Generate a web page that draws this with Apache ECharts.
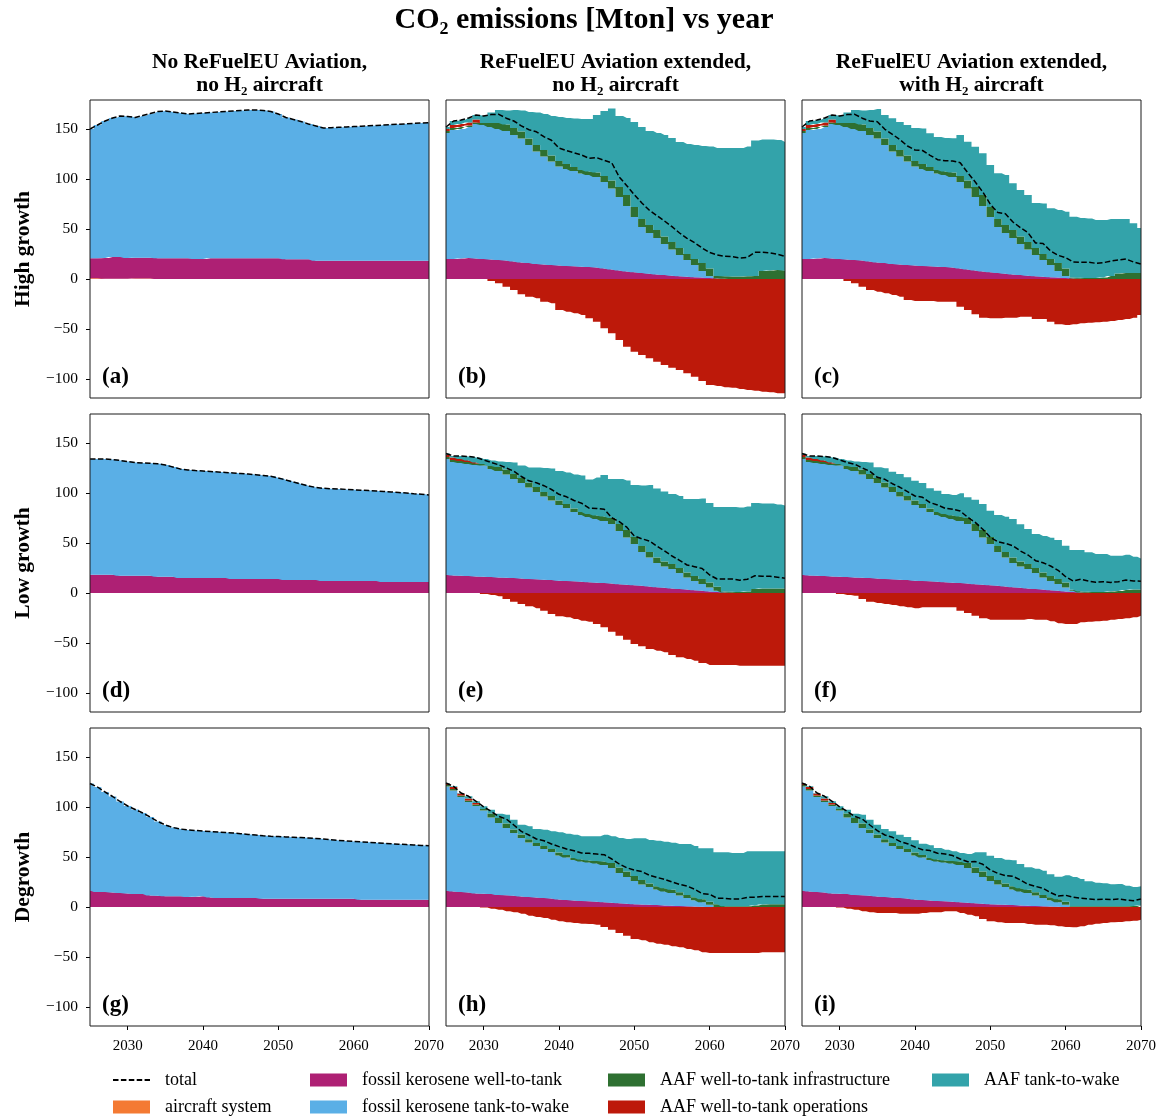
<!DOCTYPE html>
<html><head><meta charset="utf-8">
<script src="https://cdn.jsdelivr.net/npm/echarts@6/dist/echarts.min.js"></script>
<style>html,body{margin:0;padding:0;background:#fff}#c{width:1168px;height:1117px}</style>
</head><body><div id="c"></div><script>
// ---------- data (Mton CO2 per year) ----------
const years = [2025,2026,2027,2028,2029,2030,2031,2032,2033,2034,
  2035,2036,2037,2038,2039,2040,2041,2042,2043,2044,
  2045,2046,2047,2048,2049,2050,2051,2052,2053,2054,
  2055,2056,2057,2058,2059,2060,2061,2062,2063,2064,
  2065,2066,2067,2068,2069,2070];
const yTickValues = [-100,-50,0,50,100,150];

// (a) High growth, no ReFuelEU
const aircraftA = [0.8,0.8,0.3,0.3,0.3,0.3,0.5,0.5,0.5,0, 0,0,0,0,0,0,0,0,0,0, 0,0,0,0,0,0,0,0,0,0, 0,0,0,0,0,0,0,0,0,0, 0,0,0,0,0,0];
const fossilWttA = [20,20,20.7,21.7,21.7,20.7,20.7,20.7,20.7,20.7, 20.7,20.7,20.7,20.7,20,20,20.7,20.7,20.7,20.7, 20.7,20.7,20.7,20.7,20.7,20.7,19.7,19.7,19.7,19.7, 18.3,18.3,18.3,18.3,18.3,18.3,18.3,18.3,18.3,18.3, 18.3,18.3,18.3,18.3,18.3,18.3];
const fossilTtwA = [129.2,133.2,137,139,141,141.5,140.3,142.3,144.3,146.8, 147.3,146.3,145.3,144.3,145.5,146,145.8,146.3,146.8,147.3, 147.8,148.3,148.3,147.8,146.8,144.3,141.8,139.8,137.8,135.3, 134.7,132.7,133,133.4,133.7,134.1,134.5,134.9,135.3,135.7, 136.1,136.5,136.9,137.3,137.7,138.1];
const totalA = [150,154,158,161,163,162.5,161.5,163.5,165.5,167.5, 168,167,166,165,165.5,166,166.5,167,167.5,168, 168.5,169,169,168.5,167.5,165,161.5,159.5,157.5,155, 153,151,151.3,151.7,152,152.4,152.8,153.2,153.6,154, 154.4,154.8,155.2,155.6,156,156.4];

// (b),(c) High growth, ReFuelEU extended: shared fossil part
const fossilWttHigh = [20,20,20.5,21,20.5,20,19.5,19,18.5,17.5, 16.5,16,15,14.5,14,13.5,13,12.7,12.3,12, 11.5,10.5,9.5,8.5,7.5,6.7,6,5.3,4.6,4, 3.3,2.8,2.3,1.8,1.4,1,0.6,0.3,0,0, 0,0,0,0,0,0];
const fossilTtwHigh = [126,129,129.5,131,134.5,134,132.5,131,129.5,126.5, 124,118,112.5,108,103.5,99,97,95.3,93.2,92, 90.5,86.5,81,73.5,65.5,55.3,46,40.7,36.4,31, 26.2,21.2,16.7,12.2,6.6,2,0,0,0,0, 0,0,0,0,0,0];
const aafInfraB = [2,2,2,1.5,1.5,2,4,6,6.5,7, 7,6.5,6.5,6.5,6,5.5,5,4,3.5,3.5, 4.5,6,8,10,11,10,8,8,8,7.5, 7.5,7,6,6,8,7.5,2.5,2.5,2.5,2.5, 2.7,3,8,8.5,9,8.5];
const aafOpsB = [2,3,3,3,3,0,-2,-4.3,-7.7,-11, -15.3,-17.7,-19.3,-22.7,-24.3,-31,-32.7,-34.3,-36,-39.3, -42.7,-49.3,-54.3,-61,-67.7,-72.7,-76,-79.3,-82.7,-86, -88.7,-91,-94.3,-97.7,-102,-106,-107,-108.3,-108.7,-110, -111,-111.7,-112.7,-113.3,-114.3,-114.3];
const aafTtwB = [2,4,4,4.5,4.5,7,10.5,13,14,18, 21,26.5,32.5,36,39.5,44,46,48.5,51,52.5, 57.5,65,72,71,77,85,92,94,97,101.5, 104,106,110,114,117,122,128,128.2,128.5,128.5, 129.8,135.5,131.5,131,130,128.5];
const totalB = [152,158,159,161,164,163,164.5,164.7,160.8,158, 153.2,149.3,147.2,142.3,138.7,131,128.3,126.2,124,120.7, 121.3,118.7,116.2,102,93.3,84.3,76,68.7,63.3,58, 52.3,46,40.7,36.3,31,26.5,24.1,22.7,22.3,21, 21.5,26.8,26.8,26.2,24.7,22.7];

const aafInfraC = [2,2,2,1.5,1.5,2,4,6,6.5,7, 7,6.5,6.5,6.5,6,5.5,5,4,3.5,3.5, 4.5,6,8,10,11,10,8,8,8,7.5, 7.5,7,6,6,8,7.5,1,1,1,1, 1.5,3,5.5,6,6,6];
const aafOpsC = [2,3,3,3,3,0,-2,-4.3,-7.7,-11, -12.7,-14.3,-16,-17.7,-21,-22,-22,-22,-22.7,-22.7, -22.7,-27.7,-31,-35.3,-38.7,-39.3,-39.3,-38.7,-38.7,-37.7, -37.7,-40,-40,-42.7,-45.3,-46,-45.3,-44.3,-43.7,-43.3, -42.7,-42,-41,-40,-38.7,-36];
const aafTtwC = [2,4,4,4.5,4.5,7,10.5,13,14,18, 22.5,23.5,26.7,28,30.5,33,35.5,33.7,33,33.5, 34.2,41,38.8,40.3,41.7,42,45.7,50,46.7,46.5, 47,45,50.5,50.7,53,56.8,60.7,59.7,59.5,58, 57.5,57,54.5,54,49.7,45];
const totalC = [152,158,159,161,164,163,164.5,164.7,160.8,158, 157.3,149.7,144.7,139.3,133,129,128.5,123.7,119.3,118.3, 118,116.3,106.3,97,87,74.7,66.4,65.3,57,51.3, 46.3,36,35.5,28,23.7,21.3,17,16.7,16.8,15.7, 16.3,18,19,20,17,15];

// (d) Low growth, no ReFuelEU
const fossilWttD = [18.3,18.3,18.3,18.3,17.3,17.3,17.3,17.3,17.3,16.3, 16.3,16.3,15,15,15,15,15,15,15,14, 14,14,14,14,14,14,13,13,13,13, 13,12,12,12,12,12,12,12,12,11, 11,11,11,11,11,11];
const fossilTtwD = [115.7,115.7,115.7,115.2,115.2,114.2,113.2,112.7,112.4,112.9, 111.7,109.7,109,108,107.4,107,106.5,106,105.5,106, 105.5,105,104.3,103.5,102.7,101,100,98,96,94, 92.5,92.7,92.3,92,91.6,91.2,90.8,90.4,90,90.5, 90,89.5,89,88.3,87.7,87];
const totalD = [134,134,134,133.5,132.5,131.5,130.5,130,129.7,129.2, 128,126,124,123,122.4,122,121.5,121,120.5,120, 119.5,119,118.3,117.5,116.7,115,113,111,109,107, 105.5,104.7,104.3,104,103.6,103.2,102.8,102.4,102,101.5, 101,100.5,100,99.3,98.7,98];

// (e),(f) Low growth, ReFuelEU extended
const fossilWttLow = [18.3,17.5,17.3,17,16.5,16.3,16,15.5,15.2,15, 14.5,14,13.7,13.3,13,12.3,12,11.7,11.3,10.7, 10.3,10,9.5,8.8,8.3,7.8,7.2,6.5,5.8,5.2, 4.6,4,3.4,2.8,2.2,1.6,1,0.5,0.2,0, 0,0,0,0,0,0];
const fossilTtwLow = [115.7,113.5,112.7,112,111.5,111.2,108,106.5,103.3,99, 95.5,91.5,87.3,83.2,79.5,75.7,73,69.3,66.7,65.3, 63.7,62,59.5,53.2,47.2,41.2,33.8,29,24.2,21.3, 19.4,16,12.1,9.2,6.8,3.9,1.3,0,0,0, 0,0,0,0,0,0];
const aafInfraE = [2,2,2,2,1.5,1.5,3,4,5,5, 5,5,5,4.5,4.5,4.5,4,3.5,3,3, 3.5,4.5,6,7,7.5,7,6,5.5,5.5,5, 5,5,5,5,5,5,4,1,1,1, 1.5,4,4.5,4.5,4.5,4.5];
const aafOpsE = [2,2.5,2,1.5,1,-1,-2,-3.3,-6,-8.7, -11,-13.3,-15.3,-17.7,-21,-23.3,-24.3,-26,-27.7,-28.7, -31,-34.3,-38.7,-42.7,-46.7,-51,-53.3,-56,-57.7,-59.3, -62,-64.3,-66,-67.7,-70,-72,-72,-72,-72,-72.7, -72.7,-72.7,-72.7,-72.7,-72.7,-72.7];
const aafTtwE = [1.5,1.5,3,4,5,5,5.5,5.5,7.5,11.5, 12.5,15,19.5,24,27.5,29.5,31.5,34,36.5,34.5, 38,41.5,39,45,49.5,52,60.5,67,69,70, 70,72,73.5,77,80.5,79.5,79.7,84.5,84.8,84.5, 85,86,85,85,84,83];
const totalE = [139.5,137,137,136.5,135.5,133,130.5,128.2,125,121.8, 116.5,112.2,110.2,107.3,103.5,98.7,96.2,92.5,89.8,84.8, 84.5,83.7,75.3,71.3,65.8,57,54.2,52,46.8,42.2, 37,32.7,28,26.3,24.5,18,14,14,14,12.8, 13.8,17.3,16.8,16.8,15.8,14.8];

const aafInfraF = [2,2,2,2,1.5,1.5,3,4,5,5, 5,5,5,4.5,4.5,4.5,4,3.5,3,3, 3.5,4.5,6,7,7.5,7,6,5.5,5.5,5, 5,5,5,5,5,5,1,1,1,1, 1,1.5,2,3,3.5,3.5];
const aafOpsF = [2,2.5,2,1.5,1,-1,-2,-2.7,-6,-8.7, -10,-11,-12,-13.3,-14.3,-15.3,-14.3,-14.3,-14.3,-14.3, -14.3,-17.7,-20,-22.7,-25.3,-26.7,-26.7,-26.7,-26.7,-26.7, -26,-26.7,-26.7,-28.3,-30.3,-31,-31,-29.3,-28.7,-28.3, -27.7,-26.7,-26,-25.3,-24.3,-22.7];
const aafTtwF = [1.5,1.5,3,4,5,5,5.5,5.5,7.5,11.5, 10.7,14.2,15.3,18,18.7,19.8,21,20.2,21.3,20, 20.5,23.2,20.7,24.3,26,26.3,31,35.3,38.5,37.2, 35,34,36.5,38.3,39,36.8,39.7,41.5,39.5,38, 38,35.8,35.3,35.3,32.8,31];
const totalF = [139.5,137,137,136.5,135.5,133,130.5,128.8,125,121.8, 115.7,113.7,109.3,105.7,101.4,97,95.7,90.4,88,84.7, 83.7,82,75.7,70.6,63.7,55.6,51.3,49.6,47.3,42, 38,32.3,30.3,27,22.7,16.3,12,13.7,12,10.7, 11.3,10.6,11.3,13,12,11.8];

// (g) Degrowth, no ReFuelEU
const fossilWttG = [16.5,15,15,14.5,14,13.5,13,13,11.5,11.3, 10.7,10.7,10.7,10,10.3,10.7,9.5,9,9,9, 9,9,9,8.3,8.3,8.3,8.3,8.3,8.3,8.3, 8.3,8.3,8.3,8.3,8.3,8.3,7.3,7.3,7.3,7.3, 7.3,7.3,7.3,7.3,7.3,7.3];
const fossilTtwG = [107,105,100,96,91.5,87.5,84.5,81,78.5,74.2, 71.3,68.8,67.3,67,66.2,65.3,66,66,65.5,65, 64.3,63.6,63,63,62.4,62.1,61.8,61.5,61.1,60.7, 60.2,59.7,59,58.3,57.7,57.3,57.9,57.4,56.9,56.4, 55.9,55.5,55.1,54.7,54.3,54];
const totalG = [123.5,120,115,110.5,105.5,101,97.5,94,90,85.5, 82,79.5,78,77,76.5,76,75.5,75,74.5,74, 73.3,72.6,72,71.3,70.7,70.4,70.1,69.8,69.4,69, 68.5,68,67.3,66.6,66,65.6,65.2,64.7,64.2,63.7, 63.2,62.8,62.4,62,61.6,61.3];

// (h),(i) Degrowth, ReFuelEU extended
const fossilWttDeg = [16.5,15.5,15,14.5,13.5,13.3,13,12,11.7,11.3, 10.5,10,9.5,9,8.5,7.5,7,6.5,6,5.7, 5.3,4.7,4.3,3.8,3.3,2.8,2.5,2.2,1.9,1.6, 1.3,1,0.7,0.5,0.2,0,0,0,0,0, 0,0,0,0,0,0];
const fossilTtwDeg = [104,101,95,90.5,87.5,83.2,76.5,72,67.3,62.7, 58.5,54.5,51.5,49,46.5,44,42.5,40.5,39.5,38.8, 38.2,37.3,34.7,30.2,26.7,23.2,20,17.8,15.6,13.9, 12.7,10.5,8.3,6.2,4.5,2.3,0,0,0,0, 0,0,0,0,0,0];
const aafInfraH = [1.5,1.5,1.5,1.5,1.5,1.5,4,5,4.5,3.5, 3.5,3.3,3,3,3,3,2.5,2,2,2, 2.5,3.5,5,5.5,5.5,5,4.5,3.5,3.3,3.3, 3.3,3.3,3,3,3,3,2.7,0.7,0.7,0.7, 0.7,1.5,2.5,2.7,2.7,2.7];
const aafOpsH = [1.5,2,2,2,1.5,-0.5,-1.7,-2.7,-4.3,-5.3, -6.7,-8.7,-10,-11,-12.7,-14.3,-15.3,-16,-16.7,-17, -17.7,-20,-22.7,-26,-28.7,-32,-33.3,-35.3,-36.7,-37.7, -39.3,-40.3,-42,-43.3,-45.3,-46,-46,-46,-46,-46, -46,-46,-45.3,-45.3,-45.3,-45.3];
const aafTtwH = [0.5,0.7,0.5,2.2,1.7,2.7,3.8,4.3,8.8,9.8, 9.8,12.9,14,16.3,17.7,20.2,21.3,23.3,23.2,24.2, 24.7,26.8,26.7,29.5,32.5,37.8,41.7,43.5,45.5,46.5, 47,48.2,51,51.3,51,53.4,52,54,53.3,53.3, 55,54.2,53.2,53,53,53];
const totalH = [124,120.7,114,110.7,105.7,100.2,95.6,90.6,88,82, 75.6,72,68,66.3,63,60.4,58,56.3,54,53.7, 53,52.3,48,43,39.3,36.8,35.4,31.7,29.6,27.6, 25,22.7,21,17.7,13.4,12.7,8.7,8.7,8,8, 9.7,9.7,10.4,10.4,10.4,10.4];

const aafInfraI = [1.5,1.5,1.5,1.5,1.5,1.5,4,5,4.5,3.5, 3.5,3.3,3,3,3,3,2.5,2,2,2, 2.5,3.5,5,5.5,5.5,5,4.5,3.5,3.3,3.3, 3.3,3.3,3,3,3,3,0.7,0.7,0.7,0.7, 0.7,0.7,0.7,0.7,1,1.5];
const aafOpsI = [1.5,2,2,2,1.5,-0.5,-1.7,-2.7,-4.3,-5.3, -6,-6,-6,-6.7,-6.7,-6.7,-6,-5.3,-5.3,-4.3, -4.3,-6,-7.7,-9.3,-12,-14.3,-15.3,-16,-16,-16, -17,-17.7,-17.7,-18.3,-19.3,-20,-20.3,-19.3,-17.7,-16.7, -16,-15.3,-15,-14.3,-13.7,-12.7];
const aafTtwI = [0.5,0.7,0.5,2.2,1.7,2.7,3.8,4.3,8.8,9.8, 9.8,10.2,11.7,11.3,12,12.2,11.3,12.7,11.5,10.8, 9.7,8.5,9,15.2,19.2,20.3,22,23.8,25.9,24.2, 22.4,23.5,24.3,23,22.6,26.4,29.3,27.3,25.1,23.5, 23,22,22.3,20.6,19,19.2];
const totalI = [124,120.7,114,110.7,105.7,100.2,95.6,90.6,88,82, 76.3,72,69.7,65.6,63.3,60,57.3,56.4,53.7,53, 51.4,48,45.3,45.4,42.7,37,33.7,31.3,30.7,27, 22.7,20.6,18.6,14.4,11,11.7,9.7,8.7,8.1,7.5, 7.7,7.4,8,7,6.3,8];

const columnTitles = ['No ReFuelEU Aviation,\nno H\u2082 aircraft', 'ReFuelEU Aviation extended,\nno H\u2082 aircraft', 'ReFuelEU Aviation extended,\nwith H\u2082 aircraft'];
const rowTitles = ['High growth', 'Low growth', 'Degrowth'];

// ---------- chart ----------
const FONT = '"Liberation Serif", "DejaVu Serif", serif';
const NAMES = {ac:'aircraft system', fw:'fossil kerosene well-to-tank', ft:'fossil kerosene tank-to-wake',
  ai:'AAF well-to-tank infrastructure', ao:'AAF well-to-tank operations', at:'AAF tank-to-wake'};
const COLORS = {ac:'#f47a33', fw:'#ae2074', ft:'#5aafe6', ai:'#2e7031', ao:'#bd190a', at:'#33a3aa'};
const ORDER = ['ac','fw','ft','ai','ao','at'];

const panels = [
  {label:'(a)', d:{ac:aircraftA, fw:fossilWttA, ft:fossilTtwA}, total:totalA},
  {label:'(b)', d:{fw:fossilWttHigh, ft:fossilTtwHigh, ai:aafInfraB, ao:aafOpsB, at:aafTtwB}, total:totalB},
  {label:'(c)', d:{fw:fossilWttHigh, ft:fossilTtwHigh, ai:aafInfraC, ao:aafOpsC, at:aafTtwC}, total:totalC},
  {label:'(d)', d:{fw:fossilWttD, ft:fossilTtwD}, total:totalD},
  {label:'(e)', d:{fw:fossilWttLow, ft:fossilTtwLow, ai:aafInfraE, ao:aafOpsE, at:aafTtwE}, total:totalE},
  {label:'(f)', d:{fw:fossilWttLow, ft:fossilTtwLow, ai:aafInfraF, ao:aafOpsF, at:aafTtwF}, total:totalF},
  {label:'(g)', d:{fw:fossilWttG, ft:fossilTtwG}, total:totalG},
  {label:'(h)', d:{fw:fossilWttDeg, ft:fossilTtwDeg, ai:aafInfraH, ao:aafOpsH, at:aafTtwH}, total:totalH},
  {label:'(i)', d:{fw:fossilWttDeg, ft:fossilTtwDeg, ai:aafInfraI, ao:aafOpsI, at:aafTtwI}, total:totalI}
];
panels.forEach(p => { Object.values(p.d).concat([p.total]).forEach(a => { if (a.length !== years.length) throw new Error(p.label + ' bad length ' + a.length); }); });

const colLeft = [90, 446, 802], rowTop = [100, 414, 728], W = 339, H = 298;
const tickInt = (idx, val) => Number(val) % 10 === 0;
const fmtY = v => (v < 0 ? '\u2212' + Math.abs(v) : String(v));
const grids = [], xAxes = [], yAxes = [], series = [], graphics = [];

panels.forEach((p, i) => {
  const r = Math.floor(i / 3), c = i % 3;
  grids.push({left: colLeft[c], top: rowTop[r], width: W, height: H, show: true,
    borderColor: '#1a1a1a', borderWidth: 1, backgroundColor: 'transparent', z: 10});
  xAxes.push({gridIndex: i, type: 'category', position: 'bottom', data: years.map(String), boundaryGap: false,
    axisLine: {show: false, onZero: false}, splitLine: {show: false},
    axisTick: {show: r === 2, interval: tickInt, length: 4, lineStyle: {color: '#000'}},
    axisLabel: {show: r === 2, interval: tickInt, margin: 13, fontFamily: FONT, fontSize: 15, color: '#000'}});
  yAxes.push({gridIndex: i, type: 'value', min: -119, max: 179,
    axisLine: {show: false, onZero: false}, splitLine: {show: false},
    axisTick: {show: c === 0, customValues: yTickValues, length: 4, lineStyle: {color: '#000'}},
    axisLabel: {show: c === 0, customValues: yTickValues, formatter: fmtY, margin: 12, fontFamily: FONT, fontSize: 15.5, color: '#000'}});
  ORDER.forEach(k => {
    if (!p.d[k]) return;
    series.push({type: 'line', name: NAMES[k], xAxisIndex: i, yAxisIndex: i, stack: 'S' + i,
      step: 'middle', symbol: 'none', silent: true, animation: false, color: COLORS[k],
      lineStyle: {width: 0, color: COLORS[k]}, itemStyle: {color: COLORS[k]},
      areaStyle: {color: COLORS[k], opacity: 1}, data: p.d[k]});
  });
  series.push({type: 'line', name: 'total', xAxisIndex: i, yAxisIndex: i, symbol: 'none', silent: true,
    animation: false, z: 5, color: '#000', itemStyle: {color: '#000'},
    lineStyle: {color: '#000', width: 1.5, type: [5.5, 2.4]}, data: p.total});
  graphics.push({type: 'text', x: colLeft[c] + 12, y: rowTop[r] + H - 21, z: 20,
    style: {text: p.label, font: 'bold 23px ' + FONT, fill: '#000', align: 'left', verticalAlign: 'middle', textAlign: 'left', textVerticalAlign: 'middle'}});
});

graphics.push({type: 'text', x: 584, y: 20, style: {text: 'CO\u2082 emissions [Mton] vs year', font: 'bold 30px ' + FONT, fill: '#000',
  align: 'center', verticalAlign: 'middle', textAlign: 'center', textVerticalAlign: 'middle'}});
columnTitles.forEach((t, c) => graphics.push({type: 'text', x: colLeft[c] + W / 2, y: 73.5,
  style: {text: t, font: 'bold 21.5px ' + FONT, lineHeight: 23, fill: '#000', align: 'center', verticalAlign: 'middle', textAlign: 'center', textVerticalAlign: 'middle'}}));
rowTitles.forEach((t, r) => graphics.push({type: 'text', x: 23, y: rowTop[r] + H / 2, rotation: Math.PI / 2,
  style: {text: t, font: 'bold 21.5px ' + FONT, fill: '#000', align: 'center', verticalAlign: 'middle', textAlign: 'center', textVerticalAlign: 'middle'}}));

const legendCols = [
  {left: 112, data: [{name: 'total', itemStyle: {opacity: 0}}, {name: NAMES.ac, icon: 'rect'}]},
  {left: 310, data: [{name: NAMES.fw, icon: 'rect'}, {name: NAMES.ft, icon: 'rect'}]},
  {left: 608, data: [{name: NAMES.ai, icon: 'rect'}, {name: NAMES.ao, icon: 'rect'}]},
  {left: 932, data: [{name: NAMES.at, icon: 'rect'}]}
];
const legends = legendCols.map(l => ({left: l.left, top: 1071, orient: 'vertical', itemWidth: 37, itemHeight: 13,
  itemGap: 9, selectedMode: false, data: l.data, padding: 0,
  textStyle: {fontFamily: FONT, fontSize: 18, lineHeight: 18, color: '#000', padding: [0, 0, 0, 10]}}));

const chart = echarts.init(document.getElementById('c'), null, {renderer: 'canvas'});
chart.setOption({backgroundColor: '#fff', animation: false, grid: grids, xAxis: xAxes, yAxis: yAxes,
  series: series, legend: legends, graphic: graphics, tooltip: {show: false}});
</script></body></html>
